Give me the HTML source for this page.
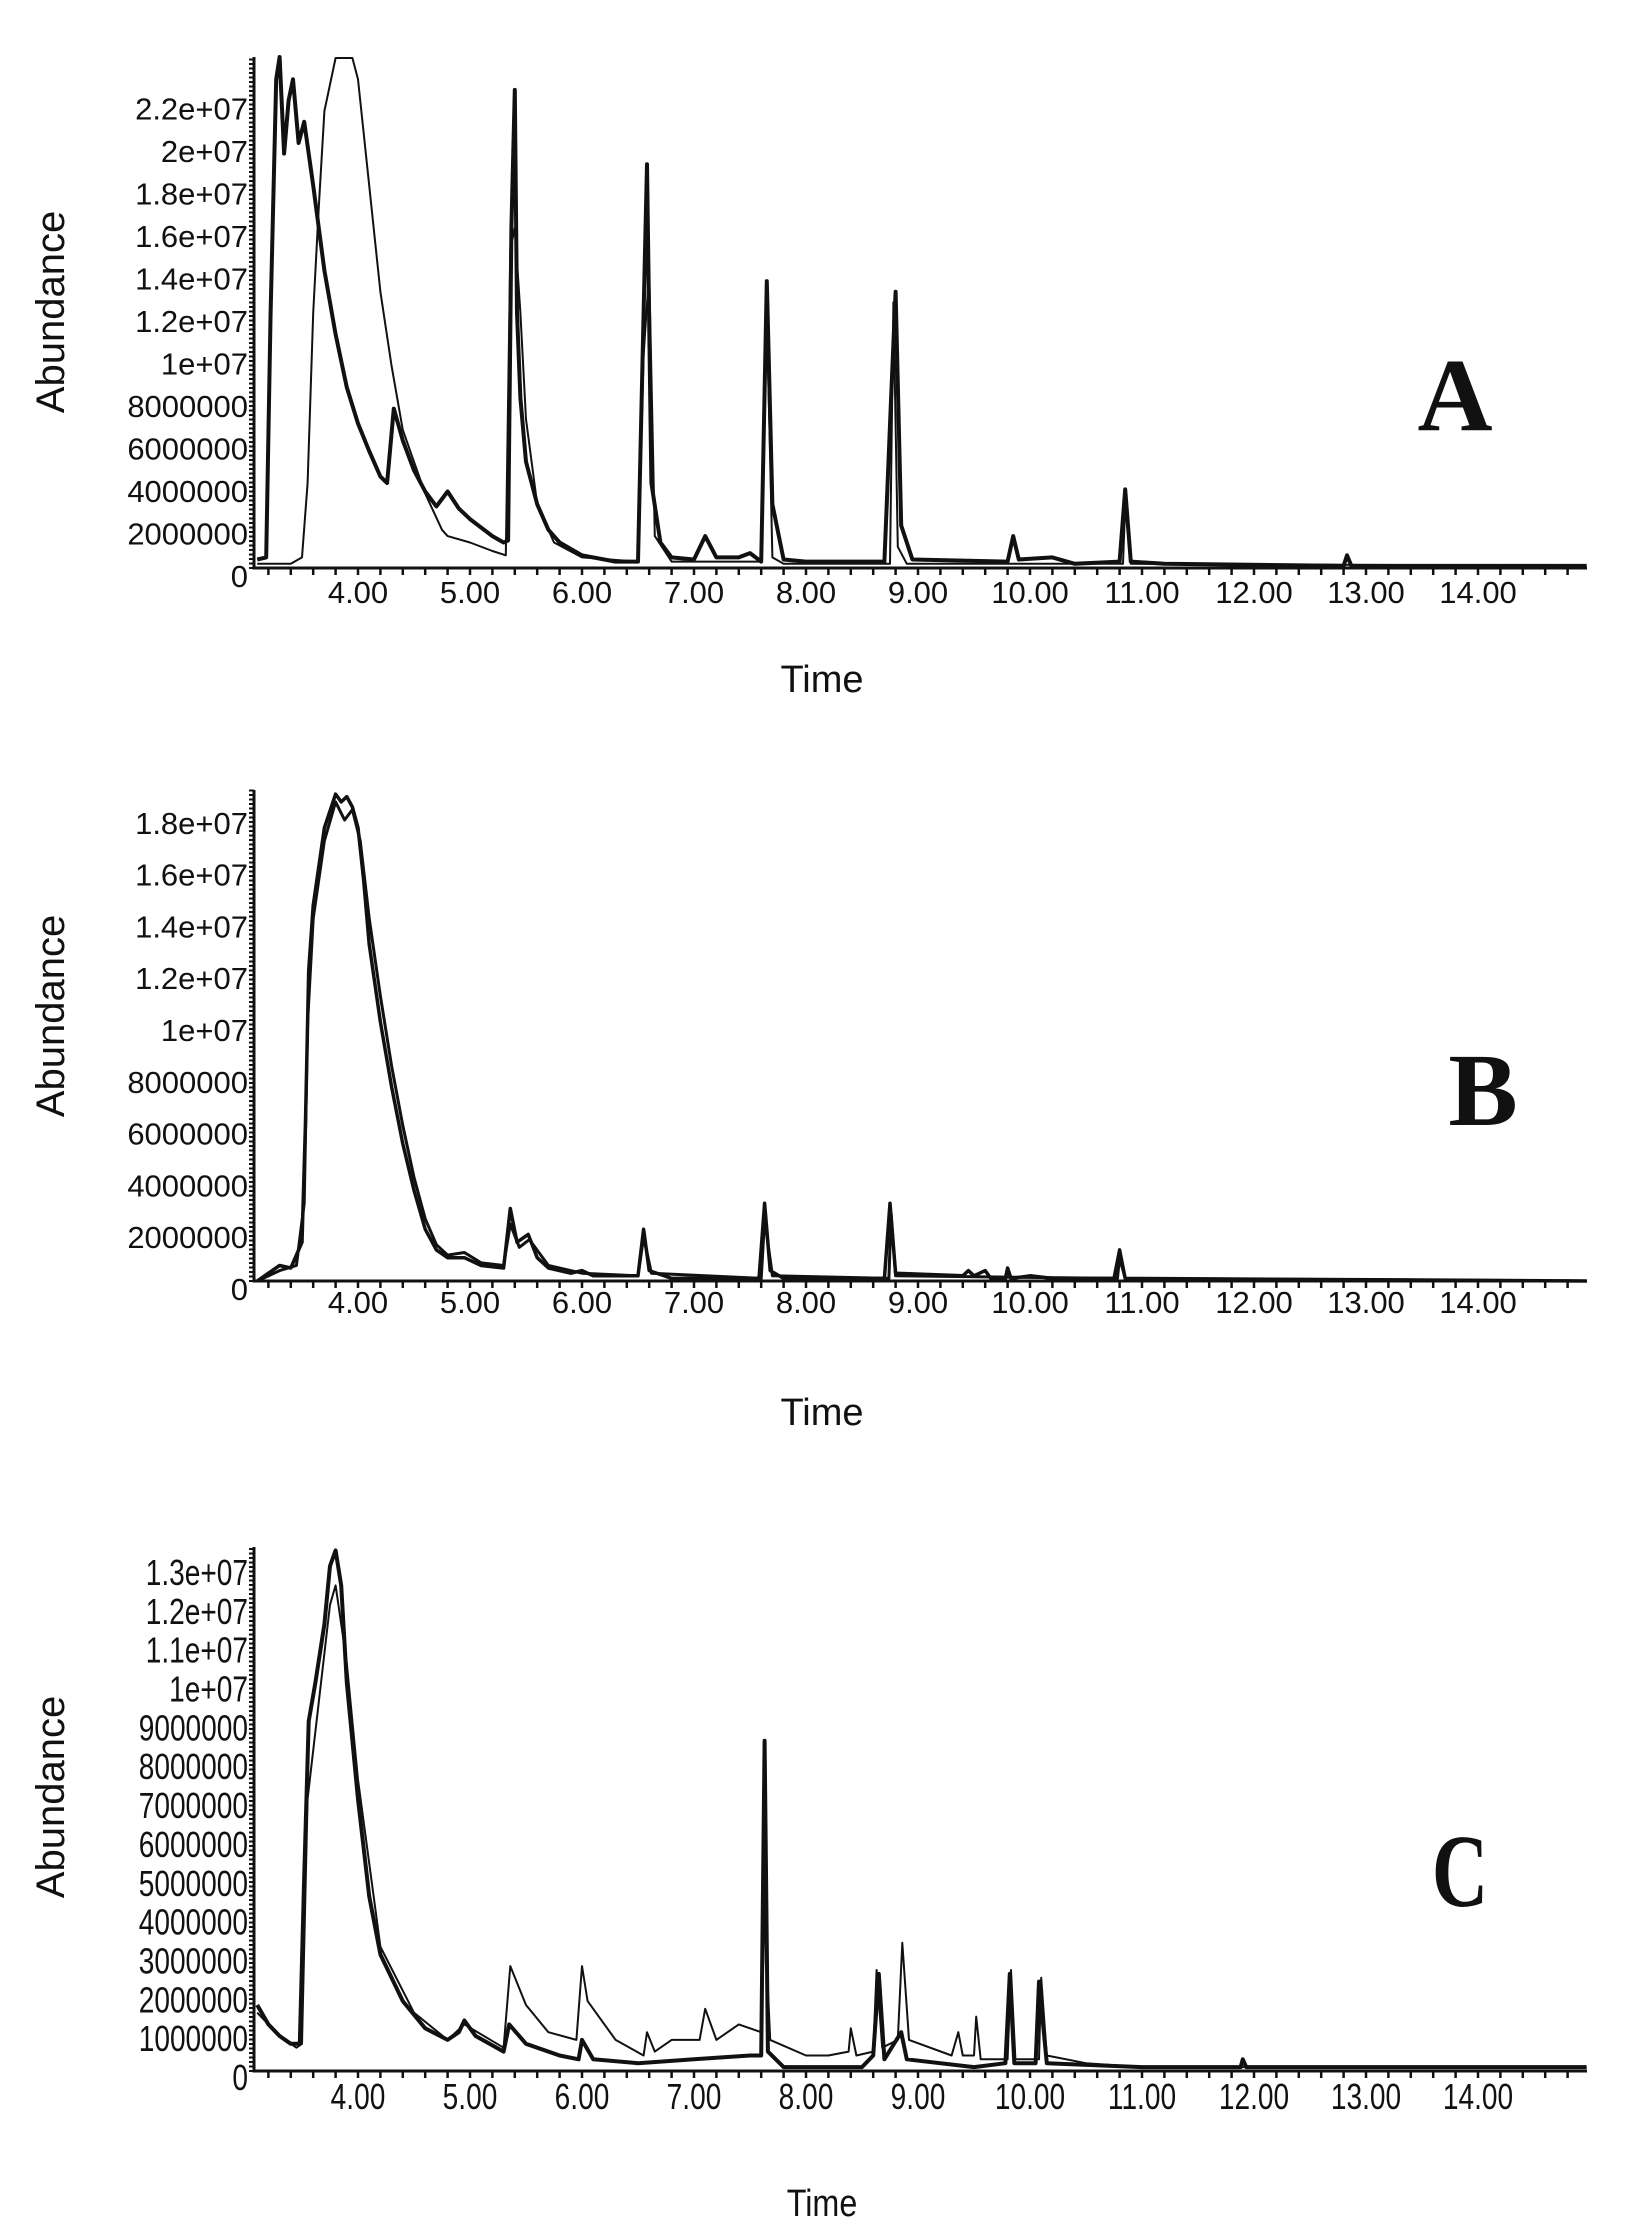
<!DOCTYPE html>
<html><head><meta charset="utf-8"><style>
html,body{margin:0;padding:0;background:#fff}
svg{display:block}
text{font-family:"Liberation Sans",Arial,sans-serif;fill:#111}
</style></head><body>
<svg id="chart" width="1632" height="2235" viewBox="0 0 1632 2235" xmlns="http://www.w3.org/2000/svg"></svg>
<script>
const timeTicks=[4,5,6,7,8,9,10,11,12,13,14];
const timeTickLabels=["4.00","5.00","6.00","7.00","8.00","9.00","10.00","11.00","12.00","13.00","14.00"];
const aYTicks=[0,2e6,4e6,6e6,8e6,10e6,12e6,14e6,16e6,18e6,20e6,22e6];
const aYLabels=["0","2000000","4000000","6000000","8000000","1e+07","1.2e+07","1.4e+07","1.6e+07","1.8e+07","2e+07","2.2e+07"];
const bYTicks=[0,2e6,4e6,6e6,8e6,10e6,12e6,14e6,16e6,18e6];
const bYLabels=["0","2000000","4000000","6000000","8000000","1e+07","1.2e+07","1.4e+07","1.6e+07","1.8e+07"];
const cYTicks=[0,1e6,2e6,3e6,4e6,5e6,6e6,7e6,8e6,9e6,10e6,11e6,12e6,13e6];
const cYLabels=["0","1000000","2000000","3000000","4000000","5000000","6000000","7000000","8000000","9000000","1e+07","1.1e+07","1.2e+07","1.3e+07"];
// series: [time(min), abundance(millions)]
const aSeries1=[[3.1,0.4],[3.18,0.5],[3.22,12],[3.27,23],[3.3,24.5],[3.34,19.5],[3.38,22],[3.42,23],[3.47,20],[3.52,21],[3.6,18],[3.7,14],[3.8,11],[3.9,8.5],[4.0,6.8],[4.1,5.5],[4.2,4.3],[4.26,4],[4.32,7.5],[4.4,6],[4.5,4.6],[4.6,3.6],[4.7,2.9],[4.8,3.6],[4.9,2.8],[5.0,2.3],[5.1,1.9],[5.2,1.5],[5.3,1.2],[5.34,1.3],[5.37,16],[5.4,22.5],[5.42,12],[5.45,8],[5.5,5],[5.6,3],[5.7,1.8],[5.8,1.2],[6.0,0.6],[6.3,0.3],[6.5,0.3],[6.55,12],[6.58,19],[6.62,4],[6.7,1.2],[6.8,0.5],[7.0,0.4],[7.1,1.5],[7.2,0.5],[7.4,0.5],[7.5,0.7],[7.6,0.3],[7.65,13.5],[7.7,3],[7.8,0.4],[8.0,0.3],[8.7,0.3],[8.76,8],[8.8,13],[8.85,2],[8.95,0.4],[9.8,0.3],[9.85,1.5],[9.9,0.4],[10.2,0.5],[10.4,0.2],[10.8,0.3],[10.85,3.7],[10.9,0.3],[11.2,0.2],[12.8,0.1],[12.83,0.6],[12.87,0.1],[14.97,0.1]];
const aSeries2=[[3.1,0.2],[3.4,0.2],[3.5,0.5],[3.55,4],[3.6,12],[3.65,17],[3.7,21.5],[3.8,24],[3.95,24],[4.0,23],[4.1,18],[4.2,13],[4.3,9.5],[4.4,6.5],[4.6,3.5],[4.75,1.8],[4.8,1.5],[5.0,1.2],[5.2,0.8],[5.32,0.6],[5.36,15],[5.4,16],[5.45,12],[5.5,7],[5.6,3],[5.75,1.2],[6,0.5],[6.5,0.3],[6.55,10],[6.6,14],[6.65,1.5],[6.8,0.3],[7.6,0.3],[7.65,12],[7.7,0.5],[7.8,0.2],[8.75,0.2],[8.78,12.5],[8.82,1],[8.9,0.2],[10.83,0.2],[10.85,3],[10.9,0.2],[14.97,0.1]];
const bSeries1=[[3.1,0],[3.2,0.3],[3.3,0.6],[3.4,0.5],[3.5,1.5],[3.53,6],[3.56,12],[3.6,14.5],[3.65,16],[3.7,17.5],[3.8,18.8],[3.85,18.5],[3.9,18.7],[3.95,18.3],[4.0,17.5],[4.05,15.5],[4.1,13],[4.2,10],[4.3,7.5],[4.4,5.3],[4.5,3.5],[4.6,2],[4.7,1.2],[4.8,0.9],[4.95,0.9],[5.1,0.6],[5.3,0.5],[5.36,2.8],[5.42,1.5],[5.52,1.8],[5.6,0.9],[5.7,0.5],[5.9,0.3],[6.0,0.4],[6.1,0.2],[6.5,0.2],[6.55,2],[6.6,0.4],[6.8,0.1],[7.58,0.1],[7.63,3],[7.68,0.4],[7.8,0.1],[8.7,0.1],[8.75,3],[8.8,0.3],[9.4,0.2],[9.45,0.4],[9.5,0.2],[9.6,0.4],[9.65,0.1],[9.78,0.1],[9.8,0.5],[9.83,0.1],[10.0,0.2],[10.2,0.1],[10.75,0.1],[10.8,1.2],[10.85,0.1],[14.97,0]];
const bSeries2=[[3.1,0],[3.3,0.4],[3.45,0.6],[3.52,3],[3.55,10],[3.6,14],[3.7,17],[3.8,18.5],[3.88,17.8],[3.95,18.2],[4.02,17],[4.1,14],[4.2,11],[4.3,8.3],[4.4,6],[4.5,4],[4.6,2.4],[4.7,1.4],[4.8,1.0],[4.95,1.1],[5.1,0.7],[5.3,0.6],[5.36,2.2],[5.44,1.3],[5.53,1.6],[5.7,0.6],[6.0,0.3],[6.5,0.2],[6.55,1.7],[6.62,0.3],[7.6,0.1],[7.63,2.4],[7.7,0.2],[8.74,0.1],[8.76,2.6],[8.8,0.2],[10.78,0.1],[10.8,0.9],[10.85,0.1],[14.97,0]];
const cSeries1=[[3.1,1.7],[3.2,1.2],[3.3,0.9],[3.4,0.7],[3.48,0.7],[3.52,5],[3.56,9],[3.62,10],[3.7,11.5],[3.75,13],[3.8,13.4],[3.85,12.5],[3.9,10],[4.0,7],[4.1,4.5],[4.2,3],[4.4,1.8],[4.6,1.1],[4.8,0.8],[4.9,1.0],[4.95,1.3],[5.05,0.9],[5.3,0.5],[5.35,1.2],[5.5,0.7],[5.8,0.4],[5.97,0.3],[6.0,0.8],[6.1,0.3],[6.5,0.2],[7.0,0.3],[7.5,0.4],[7.6,0.4],[7.63,8.5],[7.66,0.5],[7.8,0.1],[8.5,0.1],[8.6,0.4],[8.65,2.5],[8.7,0.3],[8.85,1],[8.9,0.3],[9.5,0.1],[9.78,0.2],[9.82,2.5],[9.86,0.2],[10.05,0.2],[10.08,2.3],[10.15,0.2],[11.0,0.1],[11.88,0.1],[11.9,0.3],[11.93,0.1],[14.97,0.1]];
const cSeries2=[[3.1,1.5],[3.3,0.9],[3.45,0.6],[3.5,0.7],[3.55,7],[3.65,9.5],[3.75,12],[3.8,12.5],[3.9,10.5],[4.0,7.5],[4.2,3.2],[4.5,1.5],[4.8,0.8],[4.95,1.2],[5.3,0.6],[5.36,2.7],[5.5,1.7],[5.7,1.0],[5.95,0.8],[6.0,2.7],[6.05,1.8],[6.3,0.8],[6.55,0.4],[6.58,1.0],[6.65,0.5],[6.8,0.8],[7.05,0.8],[7.1,1.6],[7.2,0.8],[7.4,1.2],[7.6,1.0],[7.63,4],[7.68,0.8],[8.0,0.4],[8.2,0.4],[8.38,0.5],[8.4,1.1],[8.45,0.4],[8.6,0.5],[8.63,2.6],[8.68,0.6],[8.82,0.8],[8.86,3.3],[8.92,0.8],[9.3,0.4],[9.36,1.0],[9.4,0.4],[9.5,0.4],[9.52,1.4],[9.56,0.3],[9.8,0.3],[9.83,2.6],[9.87,0.3],[10.08,0.3],[10.1,2.4],[10.15,0.4],[10.5,0.2],[11,0.1],[14.97,0.1]];

const NS="http://www.w3.org/2000/svg";
const svg=document.getElementById('chart');
function mk(tag,attrs,parent){const e=document.createElementNS(NS,tag);for(const k in attrs)e.setAttribute(k,attrs[k]);(parent||svg).appendChild(e);return e;}

const panels=[
 {id:'a',y0:568,top:57,perM:21.25,yt:aYTicks,yl:aYLabels,series:[aSeries1,aSeries2],widths:[4,2],xLabelY:603,timeY:692,abY:312,letter:'A',lx:1455,ly:430,cond:1},
 {id:'b',y0:1281,top:790,perM:25.9,yt:bYTicks,yl:bYLabels,series:[bSeries1,bSeries2],widths:[3.5,3],xLabelY:1313,timeY:1425,abY:1016,letter:'B',lx:1483,ly:1125,cond:1},
 {id:'c',y0:2071,top:1547,perM:38.85,yt:cYTicks,yl:cYLabels,series:[cSeries1,cSeries2],widths:[4,2],xLabelY:2109,timeY:2216,abY:1797,letter:'C',lx:1460,ly:1906,cond:0.78}
];
const X0=254,X1=1587;
function xs(t){return 358+(t-4)*112;}

panels.forEach(p=>{
  const g=mk('g',{});
  
  
  const ys=v=>p.y0-v/1e6*p.perM;
  const ax=mk('path',{d:`M${X0},${p.top} L${X0},${p.y0} L${X1},${p.y0}`,stroke:'#111','stroke-width':3,fill:'none'},g);
  
  
  let d='';
  for(let y=p.y0;y>=p.top;y-=4.5){d+=`M${X0-5},${y.toFixed(1)}L${X0},${y.toFixed(1)}`;}
  const ymt=mk('path',{d:d,stroke:'#111','stroke-width':2},g);
  
  
  d='';
  for(let t=3.2;t<=14.95;t+=0.2){const x=xs(t);d+=`M${x.toFixed(1)},${p.y0}L${x.toFixed(1)},${p.y0+7}`;}
  const xmt=mk('path',{d:d,stroke:'#111','stroke-width':2.5},g);
  
  
  p.yt.forEach((v,i)=>{
    const t=mk('text',{x:0,y:0,'text-anchor':'end','font-size':p.cond<1?36:31,transform:`translate(${X0-6},${(ys(v)+19).toFixed(1)}) scale(${p.cond},1)`},g);
    t.textContent=p.yl[i];
    
    
  });
  timeTicks.forEach((v,i)=>{
    const t=mk('text',{x:0,y:0,'text-anchor':'middle','font-size':p.cond<1?36:31,transform:`translate(${xs(v)},${p.xLabelY}) scale(${p.cond},1)`},g);
    t.textContent=timeTickLabels[i];
    
    
  });
  const yt=mk('text',{x:0,y:0,'text-anchor':'middle','font-size':40,transform:`translate(64,${p.abY}) rotate(-90)`},g);
  yt.textContent='Abundance';
  
  
  const xt=mk('text',{x:0,y:0,'text-anchor':'middle','font-size':38,transform:`translate(822,${p.timeY}) scale(${p.cond<1?0.85:1},1)`},g);
  xt.textContent='Time';
  
  
  const lt=mk('text',{x:0,y:0,'text-anchor':'middle','font-size':104,'font-weight':'bold',transform:`translate(${p.lx},${p.ly}) scale(${p.cond<1?0.75:1},1)`,style:'font-family:"Liberation Serif","Times New Roman",serif'},g);
  lt.textContent=p.letter;
  
  
  const clipTop=p.top;
  p.series.forEach((s,si)=>{
    const pts=s.map(([t,v])=>`${xs(t).toFixed(1)},${Math.max(clipTop,ys(v*1e6)).toFixed(1)}`).join(' ');
    const pl=mk('polyline',{points:pts,fill:'none',stroke:'#111','stroke-width':p.widths[si],'stroke-linejoin':'round'},g);
    
    
  });
});
</script>
</body></html>
